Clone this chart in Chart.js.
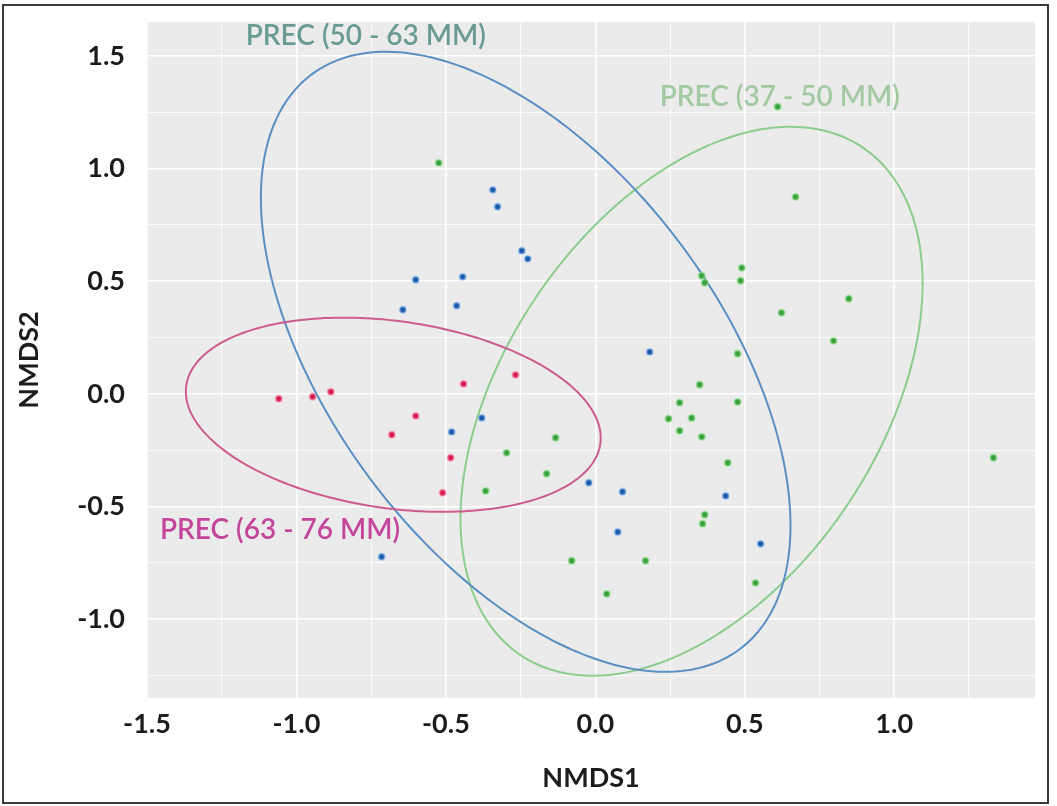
<!DOCTYPE html>
<html>
<head>
<meta charset="utf-8">
<title>NMDS ordination</title>
<script src="https://cdn.jsdelivr.net/npm/chart.js@4.4.1/dist/chart.umd.min.js"></script>
<style>
  html, body { margin: 0; padding: 0; background: #fff; }
  canvas { display: block; }
</style>
</head>
<body>
<canvas id="nmdsChart" width="1057" height="806"></canvas>
<script>
// Site scores on the first two NMDS axes, one pair of arrays per precipitation class
const groupNames = ['PREC (37 - 50 MM)', 'PREC (50 - 63 MM)', 'PREC (63 - 76 MM)'];

const prec37x = [-0.524, 0.610, 0.670, 0.490, 0.486, 0.356, 0.366, 0.848, 0.623, 0.797,
                 0.476, 0.349, 0.282, 0.476, 0.245, 0.322, 0.282, 0.356, 0.443, 0.366,
                 0.359, 0.536, 1.332, -0.133, -0.297, -0.163, -0.367, -0.079, 0.168, 0.038];
const prec37y = [1.025, 1.274, 0.874, 0.559, 0.502, 0.524, 0.493, 0.422, 0.360, 0.235,
                 0.178, 0.040, -0.040, -0.036, -0.111, -0.107, -0.164, -0.191, -0.306, -0.537,
                 -0.577, -0.839, -0.284, -0.195, -0.262, -0.355, -0.431, -0.741, -0.741, -0.888];

const prec50x = [-0.343, -0.327, -0.246, -0.226, -0.601, -0.444, -0.644, -0.464, -0.380,
                 -0.481, 0.182, -0.022, 0.091, 0.075, -0.715, 0.436, 0.553];
const prec50y = [0.905, 0.830, 0.635, 0.599, 0.506, 0.519, 0.373, 0.391, -0.107,
                 -0.169, 0.186, -0.395, -0.435, -0.613, -0.723, -0.453, -0.666];

const prec63x = [-1.059, -0.946, -0.885, -0.441, -0.267, -0.601, -0.681, -0.484, -0.511];
const prec63y = [-0.022, -0.013, 0.009, 0.044, 0.084, -0.098, -0.182, -0.284, -0.439];

// Normal confidence ellipses per class: centre, spread on each axis, correlation
const ellipseCx = [0.322, -0.233, -0.676];
const ellipseCy = [-0.033, 0.142, -0.093];
const ellipseSdX = [0.773, 0.886, 0.694];
const ellipseSdY = [1.218, 1.376, 0.431];
const ellipseRho = [0.429, -0.528, -0.239];

// Where each class name is written (data units)
const labelX = [0.617, -0.768, -1.055];
const labelY = [1.318, 1.589, -0.604];

const xMajorTicks = [-1.5, -1.0, -0.5, 0.0, 0.5, 1.0];
const xMinorTicks = [-1.25, -0.75, -0.25, 0.25, 0.75, 1.25];
const yMajorTicks = [-1.0, -0.5, 0.0, 0.5, 1.0, 1.5];
const yMinorTicks = [-1.25, -0.75, -0.25, 0.25, 0.75, 1.25];

const pointFill = ['#3c9e3c', '#1d5aa6', '#d21c4e'];
const pointHalo = ['rgba(140,225,140,0.55)', 'rgba(140,190,245,0.55)', 'rgba(255,150,180,0.55)'];
const ellipseStroke = ['#8ccc8c', '#5b8fc2', '#cc5c8e'];
const labelColor = ['#a3c9a3', '#6a9a94', '#c4469c'];

const toPoints = (xs, ys) => xs.map((v, i) => ({ x: v, y: ys[i] }));
const seriesX = [prec37x, prec50x, prec63x];
const seriesY = [prec37y, prec50y, prec63y];

const tickFont = { family: 'Lato', size: 27, weight: 'bold' };
const allTicks = (a, b) => [...a, ...b].sort((p, q) => p - q).map(v => ({ value: v }));

const panelPlugin = {
    id: 'panel',
    beforeDraw(chart) {
        const { ctx, chartArea: a, width, height } = chart;
        ctx.save();
        ctx.fillStyle = '#ffffff';
        ctx.fillRect(0, 0, width, height);
        ctx.fillStyle = '#ebebeb';
        ctx.fillRect(a.left, a.top, a.width, a.height);
        ctx.restore();
    },
    afterDraw(chart) {
        const { ctx } = chart;
        ctx.save();
        ctx.strokeStyle = '#3a3a3a';
        ctx.lineWidth = 2;
        ctx.strokeRect(3, 5, 1045, 798);
        ctx.restore();
    }
};

const ellipsePlugin = {
    id: 'ellipses',
    beforeDatasetsDraw(chart) {
        const { ctx, chartArea: a, scales: { x, y } } = chart;
        ctx.save();
        ctx.beginPath();
        ctx.rect(a.left, a.top, a.width, a.height);
        ctx.clip();
        ellipseCx.forEach((cx, i) => {
            const sx = ellipseSdX[i], sy = ellipseSdY[i], r = ellipseRho[i];
            const k = Math.sqrt(1 - r * r);
            ctx.beginPath();
            for (let s = 0; s <= 240; s++) {
                const t = s / 240 * 2 * Math.PI;
                const px = x.getPixelForValue(cx + sx * Math.cos(t));
                const py = y.getPixelForValue(ellipseCy[i] + sy * (r * Math.cos(t) + k * Math.sin(t)));
                if (s === 0) ctx.moveTo(px, py); else ctx.lineTo(px, py);
            }
            ctx.closePath();
            ctx.strokeStyle = ellipseStroke[i];
            ctx.lineWidth = 2;
            ctx.stroke();
        });
        ctx.restore();

        // class names
        ctx.save();
        ctx.font = '600 28px Lato';
        ctx.textAlign = 'center';
        ctx.textBaseline = 'middle';
        groupNames.forEach((name, i) => {
            ctx.fillStyle = labelColor[i];
            ctx.fillText(name, x.getPixelForValue(labelX[i]), y.getPixelForValue(labelY[i]));
        });
        ctx.restore();
    }
};

new Chart(document.getElementById('nmdsChart'), {
    type: 'scatter',
    data: {
        datasets: groupNames.map((name, i) => ({
            label: name,
            data: toPoints(seriesX[i], seriesY[i]),
            backgroundColor: pointFill[i],
            borderColor: pointHalo[i],
            borderWidth: 2,
            pointRadius: 3.2
        }))
    },
    options: {
        responsive: false,
        animation: false,
        layout: { padding: { top: 22, right: 22, bottom: 0, left: 0 } },
        plugins: {
            legend: { display: false },
            tooltip: { enabled: false }
        },
        scales: {
            x: {
                type: 'linear',
                min: -1.5,
                max: 1.471,
                afterBuildTicks: s => { s.ticks = allTicks(xMajorTicks, xMinorTicks); },
                afterFit: s => { s.height = 108; s.paddingRight = 0; },
                border: { display: false },
                grid: {
                    color: '#ffffff',
                    lineWidth: c => xMajorTicks.includes(c.tick && c.tick.value) ? 1.6 : 0.8,
                    drawTicks: false
                },
                ticks: {
                    autoSkip: false,
                    maxRotation: 0,
                    padding: 10,
                    color: '#1c1c1c',
                    font: tickFont,
                    callback: v => xMajorTicks.includes(v) ? v.toFixed(1) : ''
                },
                title: {
                    display: true,
                    text: 'NMDS1',
                    color: '#1c1c1c',
                    font: tickFont,
                    padding: { top: 0, bottom: 12 }
                }
            },
            y: {
                type: 'linear',
                min: -1.35,
                max: 1.65,
                afterBuildTicks: s => { s.ticks = allTicks(yMajorTicks, yMinorTicks); },
                afterFit: s => { s.width = 147; s.paddingTop = 0; s.paddingBottom = 0; },
                border: { display: false },
                grid: {
                    color: '#ffffff',
                    lineWidth: c => yMajorTicks.includes(c.tick && c.tick.value) ? 1.6 : 0.8,
                    drawTicks: false
                },
                ticks: {
                    autoSkip: false,
                    padding: 22,
                    color: '#1c1c1c',
                    font: tickFont,
                    callback: v => yMajorTicks.includes(v) ? v.toFixed(1) : ''
                },
                title: {
                    display: true,
                    text: 'NMDS2',
                    color: '#1c1c1c',
                    font: tickFont,
                    padding: { top: 13, bottom: 0 }
                }
            }
        }
    },
    plugins: [panelPlugin, ellipsePlugin]
});
</script>
</body>
</html>
